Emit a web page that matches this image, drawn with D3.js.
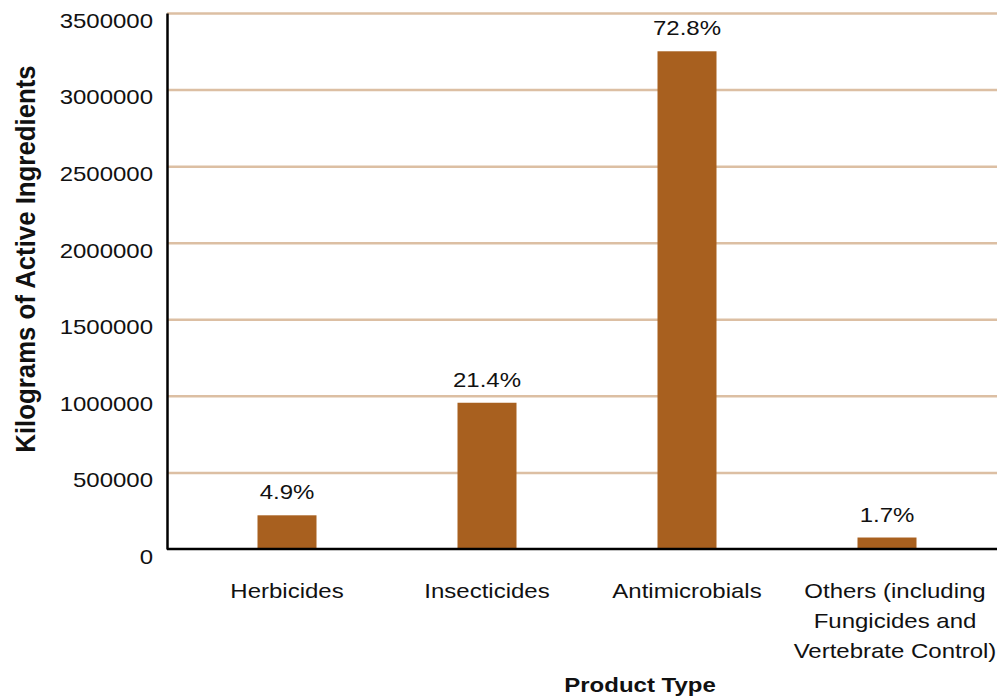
<!DOCTYPE html>
<html>
<head>
	<meta charset="utf-8">
	<title>Pesticide use by product type</title>
	<script type="text/javascript" src="https://cdn.jsdelivr.net/npm/d3@7"></script>
	<style type="text/css">
		body { margin: 0; background: #fff; }
		text { font-family: "Liberation Sans", Arial, sans-serif; fill: #111; }
	</style>
</head>
<body>
	<div id="svgdiv"></div>
	<script type="text/javascript">
		// data
		var categories = ["Herbicides", "Insecticides", "Antimicrobials", "Others (including Fungicides and Vertebrate Control)"];
		var categoryLines = [["Herbicides"], ["Insecticides"], ["Antimicrobials"], ["Others (including", "Fungicides and", "Vertebrate Control)"]];
		var kilograms = [220000, 955000, 3250000, 75000];
		var percents = ["4.9%", "21.4%", "72.8%", "1.7%"];
		var yTicks = [0, 500000, 1000000, 1500000, 2000000, 2500000, 3000000, 3500000];

		var w = 997, h = 698;
		// note: "top" is taken by window.top, so plot edges get their own names
		var plotLeft = 167, plotRight = 997, plotTop = 13, plotBottom = 549;
		var stretch = 1.2; // the picture's text is a bit wider than it is tall

		var svg = d3.select("#svgdiv").append("svg")
			.attr("width", w).attr("height", h);

		var x = d3.scaleBand()
			.domain(categories)
			.range([187, 987])
			.paddingInner(0.705)
			.paddingOuter(0.3525);

		var y = d3.scaleLinear()
			.domain([0, 3500000])
			.range([plotBottom, plotTop]);

		// gridlines
		var grid = svg.append("g")
			.attr("transform", "translate(" + plotLeft + ",0)")
			.call(d3.axisRight(y).tickValues(yTicks.slice(1)).tickSize(plotRight - plotLeft).tickFormat(""));
		grid.select(".domain").remove();
		grid.selectAll("line").attr("stroke", "#dcbfa3").attr("stroke-width", 2.5);

		// y axis with labels
		var yAxis = svg.append("g")
			.attr("transform", "translate(" + plotLeft + ",0)")
			.call(d3.axisLeft(y).tickValues(yTicks).tickSize(0).tickFormat(d3.format("d")));
		yAxis.select(".domain").attr("stroke", "#000").attr("stroke-width", 2.5);
		yAxis.selectAll("text")
			.attr("font-size", 20)
			.attr("fill", "#111")
			.attr("x", -14 / stretch)
			.attr("dy", "0.72em")
			.attr("transform", "scale(" + stretch + ",1)");

		// bars
		svg.selectAll(".bar")
			.data(kilograms)
			.enter()
			.append("rect")
			.attr("class", "bar")
			.attr("x", function(d, i){ return x(categories[i]); })
			.attr("y", function(d){ return y(d); })
			.attr("width", x.bandwidth())
			.attr("height", function(d){ return y(0) - y(d); })
			.attr("fill", "#a8601f");

		// x axis line
		svg.append("line")
			.attr("x1", plotLeft).attr("x2", plotRight)
			.attr("y1", plotBottom).attr("y2", plotBottom)
			.attr("stroke", "#000").attr("stroke-width", 2.5);

		function stretchedText(px, py, str, size, weight) {
			return svg.append("text")
				.attr("transform", "translate(" + px + "," + py + ") scale(" + stretch + ",1)")
				.attr("text-anchor", "middle")
				.attr("font-size", size)
				.attr("font-weight", weight || "normal")
				.text(str);
		}

		// percentage labels
		kilograms.forEach(function(d, i){
			stretchedText(x(categories[i]) + x.bandwidth() / 2, y(d) - 16, percents[i], 20);
		});

		// category labels
		categoryLines.forEach(function(lines, i){
			var cx = x(categories[i]) + x.bandwidth() / 2 + (lines.length > 1 ? 8 : 0);
			lines.forEach(function(t, j){
				stretchedText(cx, 598 + j * 30, t, 20);
			});
		});

		// axis titles
		stretchedText(640, 692, "Product Type", 20, "bold");

		// rotated title: its length is not stretched, only the glyph height
		svg.append("text")
			.attr("transform", "translate(35,259) scale(1.1,1) rotate(-90)")
			.attr("text-anchor", "middle")
			.attr("font-size", 25.8)
			.attr("font-weight", "bold")
			.text("Kilograms of Active Ingredients");
	</script>
</body>
</html>
